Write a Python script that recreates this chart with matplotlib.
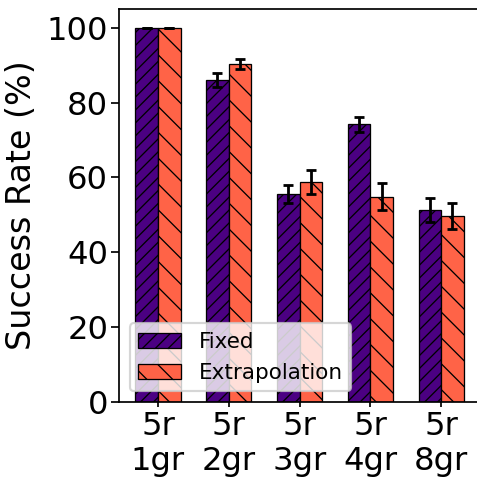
import numpy as np
import matplotlib.pyplot as plt

categories = ['5r\n1gr', '5r\n2gr', '5r\n3gr', '5r\n4gr', '5r\n8gr']
fixed_mean = [100.0, 86.1, 55.6, 74.2, 51.2]
fixed_err = [0.0, 1.9, 2.3, 2.0, 3.2]
extrap_mean = [100.0, 90.4, 58.9, 54.9, 49.7]
extrap_err = [0.0, 1.3, 3.2, 3.6, 3.5]

x = np.arange(len(categories))
width = 0.32

plt.rcParams['hatch.linewidth'] = 0.6

dpi = 155
fig = plt.figure(figsize=(477 / dpi, 488 / dpi), dpi=dpi)
ax = fig.add_axes([0.2495, 0.1762, 0.757, 0.8053])

err_kw = dict(capsize=2.5, ecolor='black', elinewidth=1.3, capthick=1.3)
ax.bar(x - width / 2, fixed_mean, width, yerr=fixed_err, color='indigo',
       edgecolor='black', linewidth=0.6, hatch='////', label='Fixed',
       error_kw=err_kw)
ax.bar(x + width / 2, extrap_mean, width, yerr=extrap_err, color='tomato',
       edgecolor='black', linewidth=0.6, hatch='\\\\', label='Extrapolation',
       error_kw=err_kw)

ax.set_xticks(x)
ax.set_xticklabels(categories, fontsize=15)
ax.tick_params(axis='x', length=2.5, pad=1.5)
ax.tick_params(axis='y', labelsize=15, pad=1.5)
ax.set_ylabel('Success Rate (%)', fontsize=15.5)
ax.set_xlim(-0.55, 4.55)
ax.set_ylim(0, 105)
ax.legend(loc='lower left')

plt.savefig('out.png', dpi=dpi)
